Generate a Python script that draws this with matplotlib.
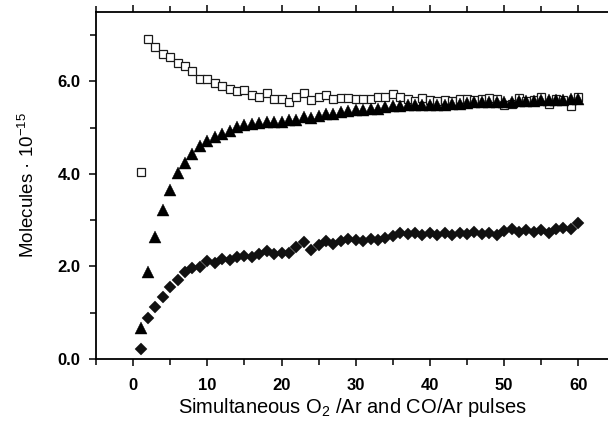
import matplotlib
matplotlib.use("Agg")
import matplotlib.pyplot as plt
import numpy as np
from matplotlib.ticker import MultipleLocator

plt.rcParams['font.family'] = ['Liberation Sans', 'DejaVu Sans']
plt.rcParams['mathtext.fontset'] = 'custom'
plt.rcParams['mathtext.rm'] = 'Liberation Sans'
plt.rcParams['mathtext.it'] = 'Liberation Sans:italic'
plt.rcParams['mathtext.bf'] = 'Liberation Sans:bold'

# pulse number
pulses = np.arange(1, 61)

# open squares
squares = [4.05, 6.92, 6.75, 6.60, 6.52, 6.39, 6.34, 6.22, 6.06, 6.06,
           5.97, 5.90, 5.84, 5.79, 5.81, 5.71, 5.66, 5.75, 5.62, 5.62,
           5.56, 5.66, 5.76, 5.60, 5.66, 5.70, 5.61, 5.65, 5.65, 5.63,
           5.63, 5.62, 5.66, 5.67, 5.72, 5.66, 5.61, 5.58, 5.64, 5.60,
           5.58, 5.60, 5.58, 5.61, 5.62, 5.60, 5.63, 5.64, 5.61, 5.50,
           5.52, 5.64, 5.58, 5.60, 5.66, 5.52, 5.62, 5.60, 5.47, 5.66]

# filled triangles
triangles = [0.66, 1.88, 2.63, 3.21, 3.66, 4.02, 4.24, 4.44, 4.60, 4.72,
             4.80, 4.87, 4.92, 5.01, 5.06, 5.09, 5.10, 5.13, 5.13, 5.12,
             5.16, 5.17, 5.23, 5.21, 5.26, 5.30, 5.30, 5.33, 5.36, 5.38,
             5.39, 5.40, 5.41, 5.45, 5.47, 5.47, 5.48, 5.48, 5.48, 5.49,
             5.49, 5.50, 5.51, 5.52, 5.53, 5.55, 5.55, 5.56, 5.56, 5.55,
             5.56, 5.57, 5.57, 5.58, 5.60, 5.59, 5.60, 5.60, 5.61, 5.62]

# filled diamonds
diamonds = [0.22, 0.88, 1.13, 1.34, 1.55, 1.71, 1.87, 1.96, 1.98, 2.11,
            2.07, 2.16, 2.14, 2.21, 2.23, 2.21, 2.27, 2.34, 2.27, 2.30,
            2.29, 2.43, 2.52, 2.36, 2.47, 2.55, 2.49, 2.54, 2.59, 2.58,
            2.55, 2.60, 2.57, 2.62, 2.65, 2.73, 2.70, 2.72, 2.68, 2.72,
            2.67, 2.73, 2.68, 2.72, 2.70, 2.74, 2.70, 2.73, 2.68, 2.76,
            2.80, 2.75, 2.79, 2.74, 2.79, 2.73, 2.81, 2.84, 2.82, 2.94]

fig = plt.figure(figsize=(6.08, 4.22), dpi=100)
ax = fig.add_axes([96/608, 63/422, 1 - 96/608, (359 - 12)/422])

ax.plot(pulses, squares, ls='none', marker='s', ms=5.4, mfc='white',
        mec='#1a1a1a', mew=0.9, zorder=3)
ax.plot(pulses, triangles, ls='none', marker='^', ms=8.3, mfc='black',
        mec='black', mew=0.3, zorder=4)
ax.plot(pulses, diamonds, ls='none', marker='D', ms=6.2, mfc='#111111',
        mec='#111111', mew=0.3, zorder=5)

ax.set_xlim(-5, 64)
ax.set_ylim(0, 7.5)
ax.xaxis.set_major_locator(MultipleLocator(10))
ax.xaxis.set_minor_locator(MultipleLocator(5))
ax.yaxis.set_minor_locator(MultipleLocator(1))
ax.set_yticks([0, 2, 4, 6])
ax.set_yticklabels(['0.0', '2.0', '4.0', '6.0'])

for s in ['left', 'bottom', 'top']:
    ax.spines[s].set_linewidth(1.3)
ax.spines['right'].set_visible(False)

# y ticks outward on the left
ax.tick_params(axis='y', which='both', direction='out', width=1.1)
ax.tick_params(axis='y', which='major', length=5)
ax.tick_params(axis='y', which='minor', length=4)
# tiny ticks on the top spine, normal ones below
ax.tick_params(axis='x', which='both', top=True, bottom=False, direction='in',
               length=1.5, width=0.8)
ax.tick_params(axis='x', which='both', bottom=True, direction='out', width=1.1)
ax.tick_params(axis='x', which='major', length=5)
ax.tick_params(axis='x', which='minor', length=4)
ax.tick_params(labelsize=12)
for lab in ax.get_xticklabels() + ax.get_yticklabels():
    lab.set_fontweight('bold')
ax.tick_params(axis='x', pad=9)
ax.tick_params(axis='y', pad=6)

ax.set_xlabel('Simultaneous O$_2$ /Ar and CO/Ar pulses', fontsize=14.5, labelpad=2)
ax.set_ylabel('Molecules \u00b7 10$^{-15}$', fontsize=13.5, labelpad=14)

fig.savefig('out.png', dpi=100)
